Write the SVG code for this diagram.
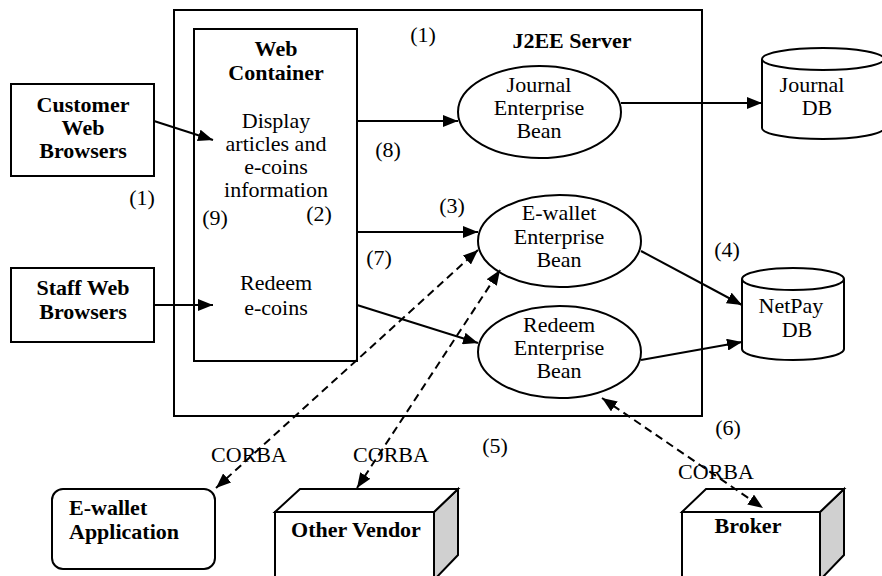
<svg xmlns="http://www.w3.org/2000/svg" width="882" height="576" viewBox="0 0 882 576">
<style>
.s{fill:#fff;stroke:#000;stroke-width:2}
.t{font-family:'Liberation Serif','Times New Roman',serif;font-size:22px;fill:#000;stroke:none;text-anchor:middle}
.b{font-weight:bold}
.l{text-anchor:start}
.c{stroke:#000;stroke-width:2;fill:none}
.d{stroke-dasharray:8,5}
.side{fill:#d0d0d0;stroke:#000;stroke-width:2}
</style>
<defs>
<marker id="ah" markerUnits="userSpaceOnUse" markerWidth="16" markerHeight="12" refX="15" refY="6" orient="auto-start-reverse">
<path d="M0,0 L15,6 L0,12 Z" fill="#000"/>
</marker>
</defs>
<rect width="882" height="576" fill="#fff"/>

<g id="j2ee-server">
<rect class="s" x="174" y="10" width="528" height="406"/>
<text class="t b" x="572" y="48">J2EE Server</text>
</g>

<g id="web-container">
<rect class="s" x="194" y="29" width="163" height="332"/>
<text class="t b" x="276" y="56">Web</text>
<text class="t b" x="276" y="80">Container</text>
<text class="t" x="276" y="128">Display</text>
<text class="t" x="276" y="151">articles and</text>
<text class="t" x="276" y="174">e-coins</text>
<text class="t" x="276" y="197">information</text>
<text class="t" x="276" y="290">Redeem</text>
<text class="t" x="276" y="315">e-coins</text>
</g>

<g id="customer-browsers">
<rect class="s" x="11" y="84" width="143" height="92"/>
<text class="t b" x="83" y="112">Customer</text>
<text class="t b" x="83" y="135">Web</text>
<text class="t b" x="83" y="158">Browsers</text>
</g>

<g id="staff-browsers">
<rect class="s" x="11" y="268" width="143" height="74"/>
<text class="t b" x="83" y="295">Staff Web</text>
<text class="t b" x="83" y="319">Browsers</text>
</g>

<g id="journal-bean">
<ellipse class="s" cx="539.5" cy="112" rx="81.5" ry="46"/>
<text class="t" x="539" y="92">Journal</text>
<text class="t" x="539" y="115">Enterprise</text>
<text class="t" x="539" y="138">Bean</text>
</g>

<g id="ewallet-bean">
<ellipse class="s" cx="559.5" cy="241" rx="81.5" ry="46"/>
<text class="t" x="559" y="220">E-wallet</text>
<text class="t" x="559" y="244">Enterprise</text>
<text class="t" x="559" y="267">Bean</text>
</g>

<g id="redeem-bean">
<ellipse class="s" cx="559.5" cy="352" rx="81.5" ry="46"/>
<text class="t" x="559" y="332">Redeem</text>
<text class="t" x="559" y="355">Enterprise</text>
<text class="t" x="559" y="378">Bean</text>
</g>

<g id="journal-db">
<path class="s" d="M762,59 L762,128 A61,11 0 0 0 884,128 L884,59"/>
<ellipse class="s" cx="823" cy="59" rx="61" ry="11"/>
<text class="t" x="812" y="92">Journal</text>
<text class="t" x="817" y="115">DB</text>
</g>

<g id="netpay-db">
<path class="s" d="M742,279 L742,349 A51,11 0 0 0 844,349 L844,279"/>
<ellipse class="s" cx="793" cy="279" rx="51" ry="11"/>
<text class="t" x="791" y="313">NetPay</text>
<text class="t" x="797" y="337">DB</text>
</g>

<g id="ewallet-app">
<rect class="s" x="52" y="489" width="163" height="80" rx="11"/>
<text class="t b l" x="69" y="515">E-wallet</text>
<text class="t b l" x="69" y="539">Application</text>
</g>

<g id="other-vendor">
<path class="side" d="M434,512 L458,489 L458,555 L434,580 Z"/>
<path class="s" d="M275,512 L300,489 L458,489 L434,512 Z"/>
<rect class="s" x="275" y="512" width="159" height="70"/>
<text class="t b" x="356" y="537">Other Vendor</text>
</g>

<g id="broker">
<path class="side" d="M820,512 L844,489 L844,555 L820,580 Z"/>
<path class="s" d="M682,512 L706,489 L844,489 L820,512 Z"/>
<rect class="s" x="682" y="512" width="138" height="70"/>
<text class="t b" x="748" y="533">Broker</text>
</g>

<g id="labels">
<text class="t" x="423" y="42">(1)</text>
<text class="t" x="142" y="205">(1)</text>
<text class="t" x="388" y="157">(8)</text>
<text class="t" x="215" y="225">(9)</text>
<text class="t" x="319" y="221">(2)</text>
<text class="t" x="452" y="213">(3)</text>
<text class="t" x="379" y="265">(7)</text>
<text class="t" x="727" y="257">(4)</text>
<text class="t" x="495" y="453">(5)</text>
<text class="t" x="728" y="435">(6)</text>
<text class="t" x="249" y="462">CORBA</text>
<text class="t" x="391" y="462">CORBA</text>
<text class="t" x="716" y="479">CORBA</text>
</g>

<g id="connectors">
<line class="c" x1="154" y1="121" x2="213" y2="140" marker-end="url(#ah)"/>
<line class="c" x1="154" y1="305" x2="213" y2="305" marker-end="url(#ah)"/>
<line class="c" x1="357" y1="121" x2="458" y2="121" marker-end="url(#ah)"/>
<line class="c" x1="357" y1="232" x2="478" y2="232" marker-end="url(#ah)"/>
<line class="c" x1="357" y1="305" x2="478" y2="343" marker-end="url(#ah)"/>
<line class="c" x1="621" y1="103" x2="762" y2="103" marker-end="url(#ah)"/>
<line class="c" x1="641" y1="251" x2="742" y2="305" marker-end="url(#ah)"/>
<line class="c" x1="641" y1="360" x2="742" y2="342" marker-end="url(#ah)"/>
<line class="c d" x1="216" y1="488" x2="478" y2="250" marker-start="url(#ah)" marker-end="url(#ah)"/>
<line class="c d" x1="357" y1="488" x2="500" y2="270" marker-start="url(#ah)" marker-end="url(#ah)"/>
<line class="c d" x1="602" y1="398" x2="763" y2="508" marker-start="url(#ah)" marker-end="url(#ah)"/>
</g>
</svg>
